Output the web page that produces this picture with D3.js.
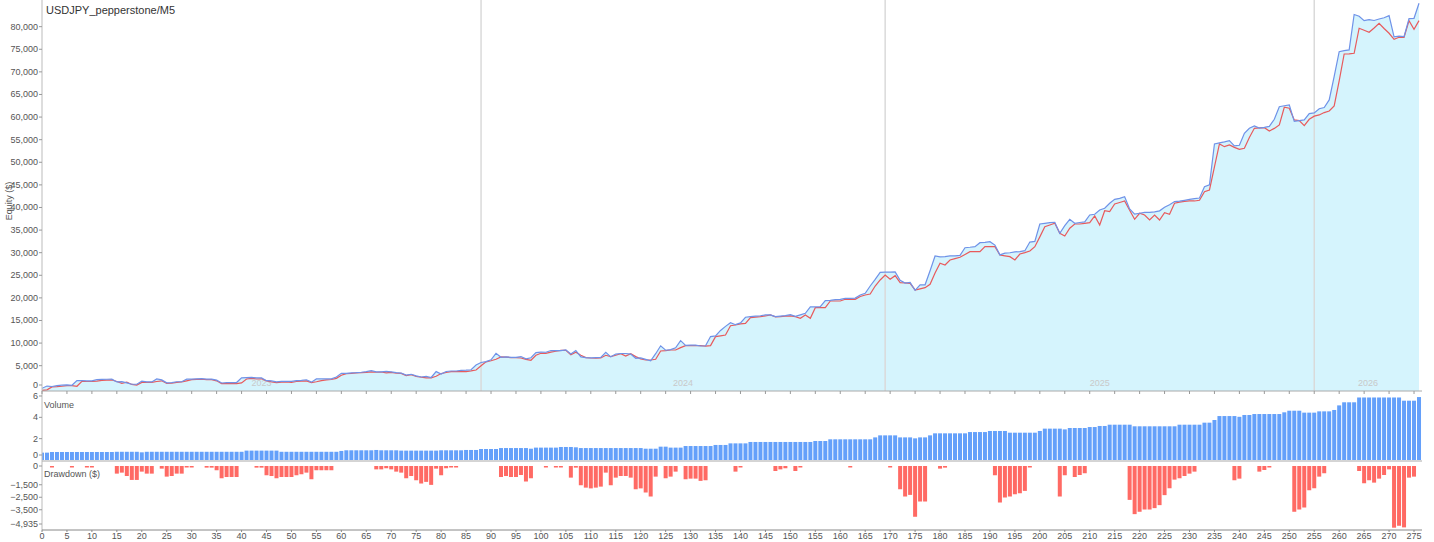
<!DOCTYPE html>
<html><head><meta charset="utf-8">
<script src="https://cdn.jsdelivr.net/npm/d3@7"></script>
<style>
body{margin:0;background:#fff;}
svg{display:block;font-family:Arial,"Liberation Sans",sans-serif;}
</style></head>
<body><svg id="chart" width="1434" height="542"></svg>
<script>
const chartTitle = "USDJPY_pepperstone/M5";
const balance = [
0,500,400,600,700,760,660,1700,1720,1640,
1640,1900,1980,2000,2010,1400,1480,1210,895,895,
1560,1400,1400,2060,1850,1210,1260,1450,1450,2010,
2020,2100,2150,2020,2020,1810,1170,1270,1270,1270,
2300,2380,2420,2290,2290,1680,1620,1440,1540,1540,
1540,1680,1760,1890,1360,2080,2080,2080,2080,2500,
3300,3320,3400,3450,3550,3700,3900,3630,3630,3720,
3630,3450,3370,2920,3100,2760,2500,2630,2390,3690,
3160,3720,3820,3820,3950,4000,4100,5150,5700,5900,
6300,7740,6860,6940,6860,6860,7020,6500,6760,7900,
8000,7970,8350,8320,8320,8500,7570,8370,6960,6770,
6710,6770,6850,7970,6960,7570,7700,7700,7570,6640,
6710,6380,6060,7650,9400,8420,8550,8950,10550,9490,
9540,9540,9360,9410,11450,11600,12800,13700,14520,14070,
14470,15710,15850,15950,16050,16220,16250,15850,15980,16070,
16300,15900,16250,16600,17990,18000,18050,19380,19450,19600,
19690,19900,19880,19950,20640,21020,22630,24100,25660,25700,
25680,25730,23870,23290,23420,21670,22890,22890,26000,29270,
29060,29140,29280,29300,29400,31100,31200,31330,32210,32300,
32430,31690,29510,29910,29990,30170,30250,30440,32350,32500,
36350,36500,36640,36730,34290,35990,37390,36510,36670,36810,
38340,38500,39440,39820,40930,41810,42000,42390,39680,38540,
38730,38910,38910,39020,39260,40060,40610,41300,41410,41590,
41780,41940,42100,44600,45000,54050,54300,54500,54780,53640,
53770,56420,57520,58030,57580,57710,57950,59510,62300,62500,
62700,59040,59220,59380,60760,60920,61850,62120,63800,69000,
74470,74700,74850,82700,82300,81320,81560,81370,81690,81980,
82430,77765,77920,77790,81770,81850,85170];
const equity = [
-450,-350,300,350,450,600,600,450,1550,1500,
1500,1600,1750,1800,1850,1500,1100,1350,850,700,
1300,1300,1300,1500,1650,1100,1150,1300,1400,1650,
1900,1950,2000,1900,1900,1650,1050,1050,1100,1050,
1200,2050,2200,2050,2100,1650,1400,1250,1350,1400,
1300,1500,1600,1650,1250,1450,1700,1850,1950,2200,
2900,3250,3300,3400,3450,3500,3650,3550,3600,3400,
3500,3350,3300,2800,3000,2650,2450,2300,2300,2650,
3250,3500,3700,3700,3750,3700,3850,4050,5000,5840,
6100,6430,6940,6900,6800,6790,6700,6400,6200,7300,
7740,7740,8000,8200,8400,8400,7400,8000,7300,6790,
6700,6640,6700,7300,7010,7300,7670,7150,7670,7010,
6500,6260,6260,6430,8250,8320,8470,8470,8990,9430,
9430,9430,9430,9350,9430,11420,11600,11780,13850,14000,
14230,14370,15620,15750,15860,16000,16220,15800,15860,15950,
16000,15850,15490,16220,15490,17840,17840,17840,19310,19310,
19310,19690,19690,19690,20300,20640,20860,22630,23960,25070,
24110,24910,23360,23300,23230,21750,22000,22260,23010,25500,
27650,27280,28380,28700,28980,29600,30220,30220,30220,31330,
31330,31330,29490,29300,29120,28380,29710,30000,30380,31330,
33500,35750,36130,36500,34290,33690,35400,36350,36350,36500,
36640,38120,36130,39290,39070,40770,41100,41440,39400,37390,
38720,38340,37230,38340,37230,38850,38500,40930,41200,41350,
41440,41440,41600,43500,43870,49000,54050,53450,53830,53300,
52880,53100,55500,57520,57600,57660,56920,57500,58250,62170,
61950,59360,59210,58100,59510,60200,60470,61000,61350,62460,
68000,73960,74000,74110,79650,79200,78760,79700,80750,79600,
78540,77210,77650,77650,81330,79430,81330];
const volume = [
0.69,0.69,0.75,0.75,0.75,0.75,0.75,0.75,0.75,0.75,
0.75,0.75,0.75,0.75,0.75,0.77,0.77,0.77,0.77,0.77,
0.72,0.77,0.77,0.77,0.77,0.77,0.77,0.77,0.77,0.77,
0.77,0.77,0.77,0.77,0.77,0.77,0.77,0.77,0.77,0.77,
0.77,0.88,0.88,0.88,0.88,0.88,0.88,0.88,0.77,0.77,
0.77,0.77,0.77,0.77,0.77,0.77,0.77,0.77,0.77,0.77,
0.85,0.91,0.91,0.91,0.91,0.91,0.91,0.94,0.91,0.91,
0.91,0.91,0.88,0.88,0.88,0.88,0.88,0.88,0.88,0.88,
0.91,0.91,0.91,0.91,0.91,0.94,0.94,0.94,1.03,1.03,
1.03,1.03,1.12,1.12,1.12,1.12,1.12,1.12,1.06,1.16,
1.16,1.16,1.16,1.16,1.22,1.22,1.22,1.19,1.12,1.12,
1.12,1.12,1.12,1.12,1.12,1.12,1.12,1.12,1.12,1.12,
1.12,1.06,1.06,1.06,1.25,1.25,1.16,1.16,1.16,1.31,
1.31,1.31,1.31,1.31,1.31,1.41,1.41,1.41,1.56,1.56,
1.56,1.56,1.69,1.69,1.69,1.69,1.69,1.69,1.69,1.69,
1.69,1.69,1.69,1.69,1.69,1.78,1.78,1.78,1.94,1.94,
1.94,1.94,1.94,1.94,1.94,1.94,1.94,2.12,2.31,2.31,
2.31,2.31,2.12,2.12,2.12,2.03,2.12,2.12,2.31,2.50,
2.50,2.50,2.50,2.50,2.50,2.50,2.62,2.62,2.62,2.62,
2.72,2.72,2.72,2.72,2.56,2.56,2.56,2.56,2.56,2.56,
2.72,2.94,2.94,2.94,2.94,2.87,3.00,3.00,3.00,3.00,
3.09,3.09,3.19,3.19,3.31,3.31,3.31,3.31,3.31,3.16,
3.16,3.16,3.16,3.16,3.16,3.16,3.16,3.16,3.31,3.31,
3.31,3.31,3.31,3.50,3.50,3.75,4.12,4.12,4.12,4.12,
4.05,4.22,4.22,4.31,4.31,4.31,4.31,4.31,4.31,4.47,
4.62,4.62,4.62,4.44,4.44,4.44,4.56,4.56,4.56,4.69,
5.12,5.41,5.41,5.41,5.86,5.86,5.86,5.86,5.86,5.86,
5.86,5.86,5.86,5.56,5.56,5.56,5.90];
const drawdown = [
0,0,-100,0,0,0,-100,0,0,-80,
-80,0,0,0,0,-610,-530,-800,-1115,-1115,
-450,-610,-610,0,-210,-850,-800,-610,-610,-50,
-40,0,0,-130,-130,-340,-980,-880,-880,-880,
0,0,0,-130,-130,-740,-800,-980,-880,-880,
-880,-740,-660,-530,-1060,-340,-340,-340,-340,0,
0,0,0,0,0,0,0,-270,-270,-180,
-270,-450,-530,-980,-800,-1140,-1400,-1270,-1510,-210,
-740,-180,-80,-80,0,0,0,0,0,0,
0,0,-880,-800,-880,-880,-720,-1240,-980,0,
0,-30,0,-30,-30,0,-930,-130,-1540,-1730,
-1790,-1730,-1650,-530,-1540,-930,-800,-800,-930,-1860,
-1790,-2120,-2440,-850,0,-980,-850,-450,0,-1060,
-1010,-1010,-1190,-1140,0,0,0,0,0,-450,
-50,0,0,0,0,0,0,-400,-270,-180,
0,-400,-50,0,0,0,0,0,0,0,
0,0,-20,0,0,0,0,0,0,0,
-20,0,-1860,-2440,-2310,-4060,-2840,-2840,0,0,
-210,-130,0,0,0,0,0,0,0,0,
0,-740,-2920,-2520,-2440,-2260,-2180,-1990,-80,0,
0,0,0,0,-2440,-740,0,-880,-720,-580,
0,0,0,0,0,0,0,0,-2710,-3850,
-3660,-3480,-3480,-3370,-3130,-2330,-1780,-1090,-980,-800,
-610,-450,0,0,0,0,0,0,0,-1140,
-1010,0,0,0,-450,-320,-80,0,0,0,
0,-3660,-3480,-3320,-1940,-1780,-850,-580,0,0,
0,0,0,0,-400,-1380,-1140,-1330,-1010,-720,
-270,-4935,-4780,-4910,-930,-850,0];
const yearLabels = ["2023","2024","2025","2026"];
const yearStarts = [0, 88, 169, 255];
const equityTicks = [0,5000,10000,15000,20000,25000,30000,35000,40000,45000,50000,55000,60000,65000,70000,75000,80000];
const volumeTicks = [0,2,4,6];
const drawdownTicks = [0,-1500,-2500,-3500,-4935];
const xTicks = d3.range(0, 276, 5);

const svg = d3.select("#chart");
const L = 42, R = 1422;
const eqTop = 0, eqBot = 391, volTop = 391, volBot = 461, ddTop = 461, ddBot = 530;
const xMax = 276.6;
const x = d3.scaleLinear().domain([0, xMax]).range([L, R]);
const yEq = d3.scaleLinear().domain([-600, 85900]).range([eqBot, eqTop]);
const yVol = d3.scaleLinear().domain([0, 6]).range([460, 396]);
const yDd = d3.scaleLinear().domain([-4935, 0]).range([527.7, 466]);
const idx = d3.range(balance.length);
const textCol = "#555";
const fmt = d3.format(",");

svg.append("defs").append("clipPath").attr("id","clip")
  .append("rect").attr("x",L).attr("y",0).attr("width",R-L).attr("height",ddBot);
const plot = svg.append("g").attr("clip-path","url(#clip)");

// equity fill
plot.append("path").datum(idx)
  .attr("fill","#d5f4fd")
  .attr("d", d3.area().x(i=>x(i)).y0(eqBot).y1(i=>yEq(Math.max(balance[i],equity[i]))));

// year separators
yearStarts.slice(1).forEach(s=>{
  plot.append("line").attr("x1",x(s)).attr("x2",x(s)).attr("y1",eqTop).attr("y2",eqBot)
    .attr("stroke","#dadada").attr("stroke-width",1.5);
});
// year labels
yearLabels.forEach((t,k)=>{
  const a = yearStarts[k], b = k+1<yearStarts.length ? yearStarts[k+1] : xMax;
  plot.append("text").attr("x",x((a+b)/2)).attr("y",386).attr("text-anchor","middle")
    .attr("font-size","9px").attr("fill","#c9c9c9").text(t);
});

// lines
plot.append("path").datum(idx).attr("fill","none").attr("stroke","#e85a5c").attr("stroke-width",1.2)
  .attr("d", d3.line().x(i=>x(i)).y(i=>yEq(equity[i])));
plot.append("path").datum(idx).attr("fill","none").attr("stroke","#6f92e8").attr("stroke-width",1.2)
  .attr("d", d3.line().x(i=>x(i)).y(i=>yEq(balance[i])));

// volume bars
const bw = 4;
plot.append("g").selectAll("rect").data(idx).join("rect")
  .attr("x", i=>x(i)-bw/2).attr("width", bw)
  .attr("y", i=>yVol(volume[i])).attr("height", i=>yVol(0)-yVol(volume[i]))
  .attr("fill","#64a0fa");
// drawdown bars
plot.append("g").selectAll("rect").data(idx.filter(i=>drawdown[i]<0)).join("rect")
  .attr("x", i=>x(i)-bw/2).attr("width", bw)
  .attr("y", yDd(0)).attr("height", i=>Math.max(1.5, yDd(drawdown[i])-yDd(0)))
  .attr("fill","#ff6a64");

// axes lines
const ax = svg.append("g");
ax.append("line").attr("x1",L).attr("x2",L).attr("y1",0).attr("y2",ddBot).attr("stroke","#bbb");
ax.append("line").attr("x1",L).attr("x2",R).attr("y1",eqBot).attr("y2",eqBot).attr("stroke","#aaa");
ax.append("line").attr("x1",L).attr("x2",R).attr("y1",volBot).attr("y2",volBot).attr("stroke","#aaa");
ax.append("line").attr("x1",L).attr("x2",R).attr("y1",ddBot).attr("stroke","#888").attr("y2",ddBot);

// x ticks
xTicks.forEach(t=>{
  ax.append("line").attr("x1",x(t)).attr("x2",x(t)).attr("y1",eqBot).attr("y2",eqBot+3).attr("stroke","#999");
  ax.append("line").attr("x1",x(t)).attr("x2",x(t)).attr("y1",ddBot).attr("y2",ddBot+2).attr("stroke","#888");
  ax.append("text").attr("x",x(t)).attr("y",539).attr("text-anchor","middle")
    .attr("font-size","9px").attr("fill",textCol).text(t);
});

function yAxis(ticks, scale, top, bot, f){
  ticks.forEach(t=>{
    const yy = scale(t);
    const ly = Math.max(top+5, Math.min(bot-6, yy));
    ax.append("line").attr("x1",L-3).attr("x2",L).attr("y1",ly).attr("y2",ly).attr("stroke","#999");
    ax.append("text").attr("x",L-4).attr("y",ly+3).attr("text-anchor","end")
      .attr("font-size","9px").attr("fill",textCol).text(f(t));
  });
}
yAxis(equityTicks, yEq, eqTop, eqBot, fmt);
yAxis(volumeTicks, yVol, volTop, volBot, d=>d);
yAxis(drawdownTicks, yDd, ddTop, ddBot, fmt);

// labels
svg.append("text").attr("x",46).attr("y",14).attr("font-size","11px").attr("fill","#333").text(chartTitle);
svg.append("text").attr("transform","translate(12,201) rotate(-90)").attr("text-anchor","middle")
  .attr("font-size","9px").attr("fill",textCol).text("Equity ($)");
svg.append("text").attr("x",44).attr("y",408).attr("font-size","9px").attr("fill",textCol).text("Volume");
svg.append("text").attr("x",44).attr("y",477).attr("font-size","9px").attr("fill",textCol).text("Drawdown ($)");
</script>
</body></html>
